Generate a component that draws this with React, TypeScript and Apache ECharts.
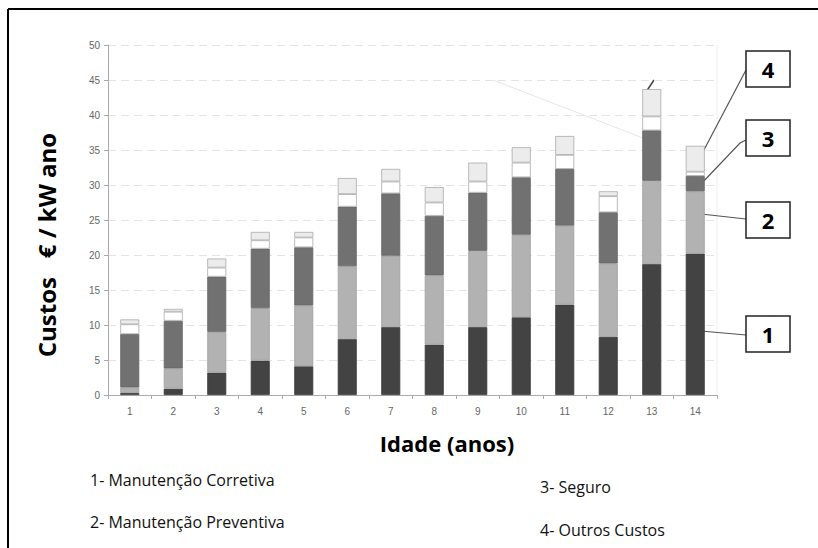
import React, { useEffect, useRef } from "react";
import * as echarts from "echarts";

const categories = ["1", "2", "3", "4", "5", "6", "7", "8", "9", "10", "11", "12", "13", "14"];
const yTicks = [0, 5, 10, 15, 20, 25, 30, 35, 40, 45, 50];

const corretiva = [0.3, 0.9, 3.2, 4.9, 4.1, 8.0, 9.7, 7.2, 9.7, 11.1, 12.9, 8.3, 18.7, 20.2];
const preventiva = [0.8, 2.9, 5.8, 7.5, 8.7, 10.4, 10.2, 9.9, 10.9, 11.8, 11.3, 10.5, 11.9, 8.9];
const seguro = [7.6, 6.8, 7.9, 8.5, 8.3, 8.5, 8.9, 8.5, 8.3, 8.2, 8.1, 7.3, 7.2, 2.2];
const semRotulo = [1.4, 1.3, 1.3, 1.2, 1.4, 1.8, 1.7, 1.9, 1.6, 2.1, 2.0, 2.3, 2.0, 0.6];
const outros = [0.7, 0.4, 1.3, 1.2, 0.8, 2.3, 1.8, 2.2, 2.7, 2.2, 2.7, 0.7, 3.9, 3.7];

const legendLines = ["1- Manutenção Corretiva", "2- Manutenção Preventiva", "3- Seguro", "4- Outros Custos"];
const yTitle = "Custos   € / kW ano";
const xTitle = "Idade (anos)";

export default function App() {
  const ref = useRef<HTMLDivElement>(null);
  useEffect(() => {
    if (!ref.current) return;
    const chart = echarts.init(ref.current, undefined, { renderer: "svg" });
    const barStyle = (color: string, border: string) => ({
      type: "bar" as const,
      stack: "total",
      barWidth: 19,
      itemStyle: { color, borderColor: border, borderWidth: 0.8 },
      emphasis: { disabled: true },
    });
    const box = (y: number, label: string) => ({
      type: "group",
      children: [
        { type: "rect", shape: { x: 746, y, width: 44, height: 36 }, style: { fill: "#fff", stroke: "#222", lineWidth: 1.5 } },
        {
          type: "text",
          x: 768,
          y: y + 18,
          style: { text: label, fill: "#000", font: "bold 22px 'Open Sans', sans-serif", align: "center", verticalAlign: "middle" },
        },
      ],
    });
    const legendFont = "16px 'Open Sans', sans-serif";
    chart.setOption({
      animation: false,
      backgroundColor: "#ffffff",
      grid: { left: 108, right: 101, top: 45, bottom: 153, containLabel: false },
      xAxis: {
        type: "category",
        data: categories,
        axisLine: { lineStyle: { color: "#aaa", width: 1 } },
        axisTick: { show: true, length: 4, lineStyle: { color: "#aaa" } },
        axisLabel: { color: "#666", fontSize: 10, fontFamily: "Liberation Sans, Arial, sans-serif", margin: 11 },
        splitLine: { show: false },
      },
      yAxis: {
        type: "value",
        min: 0,
        max: 50,
        interval: 5,
        axisLine: { show: true, lineStyle: { color: "#aaa", width: 1 } },
        axisTick: { show: true, length: 4, lineStyle: { color: "#aaa" } },
        axisLabel: {
          color: "#666",
          fontSize: 10,
          fontFamily: "Liberation Sans, Arial, sans-serif",
          margin: 8,
          formatter: (v: number) => (yTicks.includes(v) ? String(v) : ""),
        },
        splitLine: { show: true, lineStyle: { color: "#e4e4e4", type: [8, 5], width: 1 } },
      },
      series: [
        { name: "Manutenção Corretiva", data: corretiva, ...barStyle("#434343", "#3a3a3a") },
        { name: "Manutenção Preventiva", data: preventiva, ...barStyle("#b2b2b2", "#a0a0a0") },
        { name: "Seguro", data: seguro, ...barStyle("#717171", "#666") },
        { name: "Outros (sem rótulo)", data: semRotulo, ...barStyle("#ffffff", "#aaa") },
        { name: "Outros Custos", data: outros, ...barStyle("#ececec", "#aaa") },
      ],
      graphic: [
        { type: "line", shape: { x1: 8, y1: 9, x2: 818, y2: 9 }, style: { stroke: "#000", lineWidth: 2 } },
        { type: "line", shape: { x1: 8, y1: 9, x2: 8, y2: 548 }, style: { stroke: "#000", lineWidth: 2 } },
        { type: "line", shape: { x1: 717, y1: 45, x2: 717, y2: 395 }, style: { stroke: "#eee", lineWidth: 1 } },
        { type: "line", shape: { x1: 493, y1: 80, x2: 643, y2: 138 }, style: { stroke: "#e6e6e6", lineWidth: 1 } },
        { type: "line", shape: { x1: 646, y1: 92, x2: 654, y2: 80 }, style: { stroke: "#444", lineWidth: 1.5 } },
        { type: "line", shape: { x1: 746, y1: 70, x2: 695, y2: 167 }, style: { stroke: "#555", lineWidth: 1.2 } },
        { type: "polyline", shape: { points: [[746, 140], [740, 143], [701, 184]] }, style: { stroke: "#555", lineWidth: 1.2, fill: null } },
        { type: "line", shape: { x1: 746, y1: 219, x2: 701, y2: 214 }, style: { stroke: "#555", lineWidth: 1.2 } },
        { type: "line", shape: { x1: 746, y1: 335, x2: 701, y2: 331 }, style: { stroke: "#555", lineWidth: 1.2 } },
        box(51, "4"),
        box(120, "3"),
        box(202, "2"),
        box(316, "1"),
        {
          type: "text",
          x: 46,
          y: 245,
          rotation: Math.PI / 2,
          style: { text: yTitle, fill: "#000", font: "bold 24px 'Open Sans', sans-serif", align: "center", verticalAlign: "middle" },
        },
        {
          type: "text",
          x: 447,
          y: 443,
          style: { text: xTitle, fill: "#000", font: "bold 22px 'Open Sans', sans-serif", align: "center", verticalAlign: "middle" },
        },
        { type: "text", x: 90, y: 480, style: { text: legendLines[0], fill: "#111", font: legendFont, verticalAlign: "middle" } },
        { type: "text", x: 90, y: 522, style: { text: legendLines[1], fill: "#111", font: legendFont, verticalAlign: "middle" } },
        { type: "text", x: 540, y: 487, style: { text: legendLines[2], fill: "#111", font: legendFont, verticalAlign: "middle" } },
        { type: "text", x: 540, y: 530, style: { text: legendLines[3], fill: "#111", font: legendFont, verticalAlign: "middle" } },
      ],
    });
    return () => chart.dispose();
  }, []);
  return <div ref={ref} style={{ width: 818, height: 548, position: "absolute", left: 0, top: 0 }} />;
}
